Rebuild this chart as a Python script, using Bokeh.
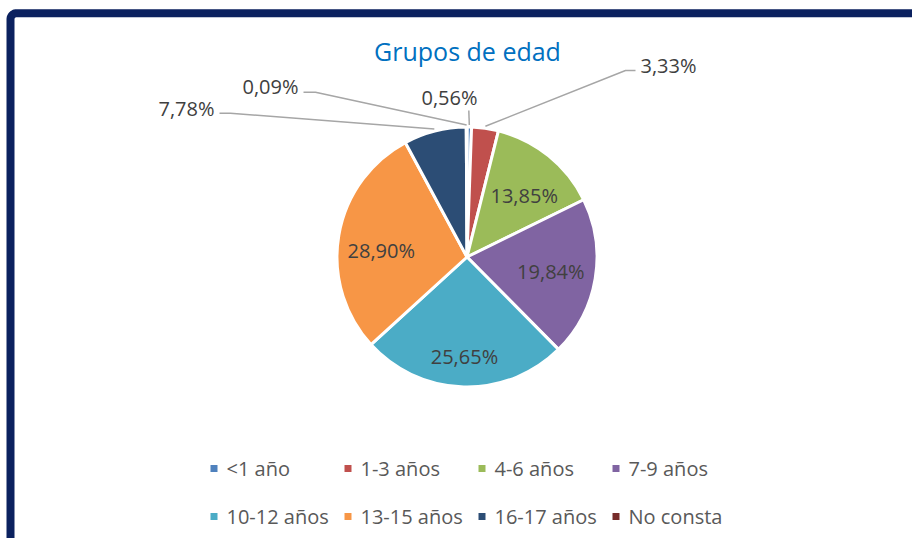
import math
from bokeh.plotting import figure
from bokeh.models import Range1d, ColumnDataSource
from bokeh.core.properties import value
from bokeh.embed import file_html
from bokeh.resources import INLINE

# ---------------- data ----------------
title_text = "Grupos de edad"
categories = ["<1 año", "1-3 años", "4-6 años", "7-9 años",
              "10-12 años", "13-15 años", "16-17 años", "No consta"]
percentages = [0.56, 3.33, 13.85, 19.84, 25.65, 28.90, 7.78, 0.09]
colors = ["#4F81BD", "#C0504D", "#9BBB59", "#8064A2",
          "#4BACC6", "#F79646", "#2C4D75", "#772C2A"]

# ---------------- layout (page pixel coordinates) ----------------
W, H = 912, 538
PAGE_H = 538
FONT = value("Open Sans")


def Y(py):
    return PAGE_H - py


p = figure(width=W, height=H, x_range=Range1d(0, W),
           y_range=Range1d(0, H),
           output_backend="svg", toolbar_location=None, min_border=0)
p.axis.visible = False
p.grid.visible = False
p.outline_line_color = None
p.background_fill_color = "white"
p.border_fill_color = "white"

# frame border (dark navy, rounded top-left corner)
bx, by, br = 10.0, 12.7, 6.0
xs = [bx, bx]
ys = [Y(545), Y(by + br)]
for k in range(1, 12):
    t = math.pi - k * (math.pi / 2) / 12
    xs.append(bx + br + br * math.cos(t))
    ys.append(Y(by + br - br * math.sin(t)))
xs += [bx + br, 920]
ys += [Y(by), Y(by)]
p.line(xs, ys, line_color="#0B215F", line_width=8, line_join="round")

# title
p.text(x=[467], y=[Y(50)], text=[title_text], text_font=FONT,
       text_font_size="25px", text_color="#0070C0",
       text_align="center", text_baseline="middle")

# pie
cx, cy, R = 466.5, Y(256.5), 130.0
total = sum(percentages)
starts, ends, mids = [], [], []
cum = 0.0
for v in percentages:
    f0 = cum / total
    cum += v
    f1 = cum / total
    starts.append(math.pi / 2 - 2 * math.pi * f1)
    ends.append(math.pi / 2 - 2 * math.pi * f0)
    mids.append(2 * math.pi * (f0 + f1) / 2)  # clockwise from top

src = ColumnDataSource(dict(start=starts, end=ends, color=colors))
p.wedge(x=cx, y=cy, radius=R, start_angle="start", end_angle="end",
        direction="anticlock", fill_color="color", line_color="white",
        line_width=3, source=src)


def fmt(v):
    return f"{v:.2f}".replace(".", ",") + "%"


# inside labels: radial distance and small angle nudge (degrees)
inside = {2: (84, 4), 3: (85, 0), 4: (100, 0), 5: (86, -5)}
for i, (rd, nudge) in inside.items():
    a = mids[i] + math.radians(nudge)
    lx = cx + rd * math.sin(a)
    ly = cy + rd * math.cos(a)
    p.text(x=[lx], y=[ly], text=[fmt(percentages[i])], text_font=FONT,
           text_font_size="20px", text_color="#404040",
           text_align="center", text_baseline="middle")

# outside labels with leader lines: (text x, text y, align, leader points)
outside = {
    0: (449, 97, "center", [(468.3, 110)]),
    1: (640, 65, "left", [(625, 70), (635, 70)]),
    6: (214, 108, "right", [(230, 112.7), (219, 112.7)]),
    7: (298, 86, "right", [(315, 91.7), (303, 91.7)]),
}
for i, (tx, ty, al, pts) in outside.items():
    a = mids[i]
    ex = cx + (R + 2) * math.sin(a)
    ey = cy + (R + 2) * math.cos(a)
    lxs = [ex] + [q[0] for q in pts]
    lys = [ey] + [Y(q[1]) for q in pts]
    p.line(lxs, lys, line_color="#A6A6A6", line_width=1.5)
    p.text(x=[tx], y=[Y(ty)], text=[fmt(percentages[i])], text_font=FONT,
           text_font_size="20px", text_color="#404040",
           text_align=al, text_baseline="middle")

# legend
col_x = [210, 344, 478, 612]
row_y = [468, 516]
for i, (name, c) in enumerate(zip(categories, colors)):
    mx = col_x[i % 4]
    my = row_y[i // 4]
    p.rect(x=[mx + 3.5], y=[Y(my)], width=7, height=7, fill_color=c,
           line_color=None)
    p.text(x=[mx + 16], y=[Y(my)], text=[name], text_font=FONT,
           text_font_size="20px", text_color="#595959",
           text_align="left", text_baseline="middle")

open("out.html", "w").write(file_html(p, INLINE))
